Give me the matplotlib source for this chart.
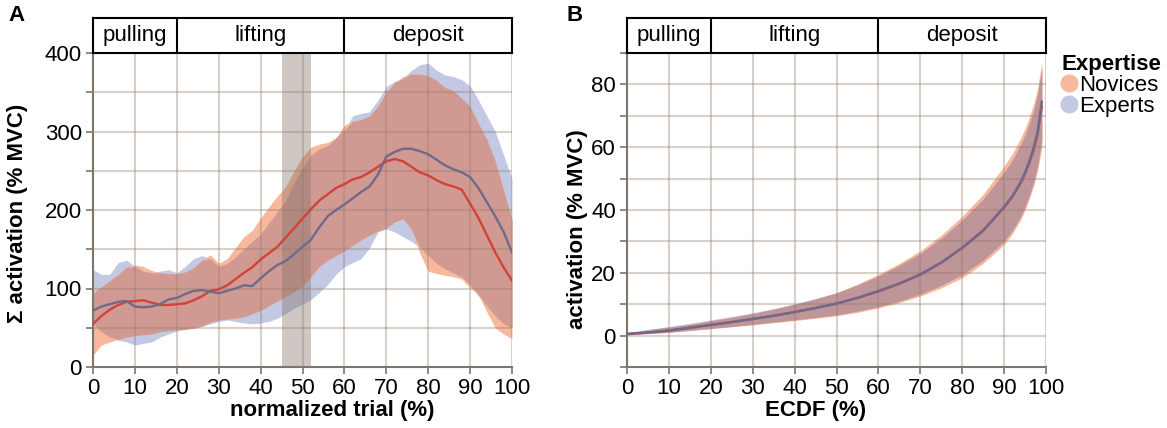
import numpy as np
import matplotlib.pyplot as plt
from matplotlib.lines import Line2D
from matplotlib.ticker import MultipleLocator

plt.rcParams['font.family'] = ['Liberation Sans', 'DejaVu Sans']

# panel A: activation over the normalized trial
trial = np.arange(0, 101, 2)
novice_mean = [55, 65, 73, 79, 83, 84, 85, 82, 79, 79, 80, 81, 85, 90, 97, 99, 104, 112, 120, 127,
               137, 145, 153, 165, 177, 189, 201, 212, 220, 228, 233, 239, 242, 248, 255, 262, 265, 262,
               255, 248, 244, 238, 233, 230, 226, 208, 190, 168, 146, 127, 110]
novice_hi = [94, 102, 110, 118, 127, 130, 128, 123, 120, 119, 119, 121, 126, 136, 143, 132, 138, 152, 166, 174,
             190, 204, 218, 230, 250, 268, 280, 284, 286, 292, 308, 313, 315, 320, 332, 350, 362, 370,
             373, 373, 371, 365, 356, 352, 342, 332, 310, 290, 262, 225, 187]
novice_lo = [15, 28, 32, 35, 38, 40, 41, 42, 45, 46, 47, 48, 49, 52, 57, 60, 61, 62, 64, 68,
             72, 78, 84, 90, 96, 103, 115, 128, 136, 142, 148, 155, 162, 168, 173, 177, 185, 189,
             175, 145, 122, 119, 117, 115, 112, 101, 92, 70, 50, 42, 36]
expert_mean = [72, 77, 80, 83, 84, 77, 76, 77, 80, 86, 88, 93, 97, 98, 96, 94, 97, 100, 104, 103,
               113, 122, 130, 135, 144, 153, 162, 178, 192, 200, 207, 215, 223, 230, 245, 268, 274, 278,
               278, 275, 271, 264, 257, 252, 248, 242, 228, 210, 192, 172, 146]
expert_hi = [124, 118, 118, 133, 136, 128, 122, 120, 122, 124, 120, 128, 138, 142, 138, 128, 132, 140, 150, 160,
             169, 184, 198, 212, 235, 254, 270, 278, 282, 292, 302, 320, 323, 325, 340, 357, 364, 368,
             378, 385, 387, 378, 372, 370, 366, 358, 340, 320, 300, 270, 240]
expert_lo = [55, 45, 38, 34, 32, 28, 30, 32, 38, 42, 46, 48, 50, 52, 55, 58, 60, 58, 56, 55,
             56, 58, 62, 68, 75, 80, 86, 95, 105, 118, 128, 133, 138, 152, 172, 176, 172, 166,
             160, 152, 142, 132, 125, 120, 115, 105, 90, 78, 65, 55, 50]

# panel B: activation over the ECDF
ecdf = [0, 5, 10, 15, 20, 25, 30, 35, 40, 45, 50, 55, 60, 65, 70, 75, 80, 85, 90, 92, 94, 95, 96, 97, 98, 99]
ecdf_novice_mean = [0.5, 1.0, 1.6, 2.5, 3.4, 4.3, 5.3, 6.3, 7.5, 8.8, 10.2, 12.0, 14.1, 16.5, 19.4, 23.2,
                    27.9, 33.4, 40.8, 44.3, 48.7, 51.6, 55.0, 59.0, 64.3, 73.0]
ecdf_novice_hi = [0.9, 1.8, 2.7, 3.6, 4.7, 5.8, 7.0, 8.4, 10.0, 11.7, 13.7, 16.4, 19.5, 23.0, 27.0, 32.0,
                  38.0, 45.0, 54.0, 58.0, 63.0, 66.0, 69.5, 73.5, 79.0, 87.0]
ecdf_novice_lo = [0.2, 0.6, 1.0, 1.6, 2.2, 2.8, 3.4, 4.1, 4.8, 5.5, 6.3, 7.4, 8.8, 10.5, 12.6, 15.2,
                  18.4, 23.0, 29.0, 32.5, 37.0, 40.0, 43.5, 47.5, 52.5, 60.0]
ecdf_expert_mean = [0.5, 1.0, 1.6, 2.5, 3.4, 4.3, 5.3, 6.3, 7.5, 8.8, 10.2, 12.0, 14.2, 16.6, 19.5, 23.3,
                    28.0, 33.5, 41.0, 44.5, 49.0, 52.0, 55.5, 59.5, 65.0, 74.5]
ecdf_expert_hi = [1.0, 2.0, 2.9, 3.9, 5.0, 6.1, 7.3, 8.6, 10.1, 11.7, 13.6, 16.1, 19.0, 22.4, 26.2, 31.0,
                  36.8, 43.5, 52.0, 56.0, 61.0, 64.0, 67.5, 71.5, 77.0, 85.0]
ecdf_expert_lo = [0.3, 0.7, 1.1, 1.7, 2.3, 2.9, 3.6, 4.3, 5.0, 5.8, 6.6, 7.8, 9.2, 11.0, 13.2, 16.0,
                  19.4, 24.0, 30.0, 33.5, 38.0, 41.0, 44.5, 48.5, 54.0, 62.0]

phases = ['pulling', 'lifting', 'deposit']
phase_edges = [0, 20, 60, 100]
groups = ['Novices', 'Experts']

NOV_FILL = '#F8B89C'
EXP_FILL = '#C3C9E3'
NOV_LINE = '#D0433A'
EXP_LINE = '#6E6A8E'
SPINE = '#7A7470'
FS = 16


def draw_bands(ax, x, nov_lo, nov_hi, exp_lo, exp_hi, both_color):
    nov_lo, nov_hi = np.asarray(nov_lo), np.asarray(nov_hi)
    exp_lo, exp_hi = np.asarray(exp_lo), np.asarray(exp_hi)
    ax.fill_between(x, exp_lo, exp_hi, color=EXP_FILL, lw=0, zorder=1)
    ax.fill_between(x, nov_lo, nov_hi, color=NOV_FILL, lw=0, zorder=1.1)
    # where both bands overlap the colours mix
    lo = np.maximum(nov_lo, exp_lo)
    hi = np.minimum(nov_hi, exp_hi)
    ax.fill_between(x, lo, hi, where=hi > lo, interpolate=True, color=both_color, lw=0, zorder=1.2)


def style_axes(ax, ylim, major, minor):
    ax.set_xlim(0, 100)
    ax.set_ylim(*ylim)
    ax.xaxis.set_major_locator(MultipleLocator(10))
    ax.yaxis.set_major_locator(MultipleLocator(major))
    ax.yaxis.set_minor_locator(MultipleLocator(minor))
    ax.set_axisbelow(False)
    ax.grid(True, which='both', color='#947B68', alpha=0.35, lw=1.5)
    for side in ['top', 'right']:
        ax.spines[side].set_visible(False)
    for side in ['left', 'bottom']:
        ax.spines[side].set_color(SPINE)
        ax.spines[side].set_linewidth(1.5)
    ax.tick_params(which='both', direction='out', length=5, width=1.2, color=SPINE,
                   labelsize=FS, pad=3)


def phase_header(rect):
    hax = fig.add_axes(rect)
    hax.set_xlim(0, 100)
    hax.set_ylim(0, 1)
    hax.set_xticks([])
    hax.set_yticks([])
    for s in hax.spines.values():
        s.set_linewidth(1.5)
    for edge in phase_edges[1:-1]:
        hax.axvline(edge, color='black', lw=1.5)
    for name, a, b in zip(phases, phase_edges[:-1], phase_edges[1:]):
        hax.text((a + b) / 2, 0.5, name, ha='center', va='center', fontsize=FS)


fig = plt.figure(figsize=(11.67, 4.28), dpi=100)
W, H = 1167, 428

# A
axA = fig.add_axes([93 / W, 61 / H, 419 / W, 314 / H])
draw_bands(axA, trial, novice_lo, novice_hi, expert_lo, expert_hi, '#D09A92')
axA.axvspan(45, 52, color='#7F6F66', alpha=0.38, lw=0, zorder=2.2)
axA.plot(trial, novice_mean, color=NOV_LINE, lw=1.7, zorder=3)
axA.plot(trial, expert_mean, color=EXP_LINE, lw=1.7, zorder=3)
style_axes(axA, (0, 400), 100, 50)
axA.set_xlabel('normalized trial (%)', fontsize=FS, fontweight='bold')
axA.set_ylabel('Σ activation (% MVC)', fontsize=FS, fontweight='bold')
axA.xaxis.set_label_coords((332 - 93) / 419, -33 / 314)
axA.yaxis.set_label_coords(-65 / 419, 0.49)
phase_header([93 / W, 375 / H, 419 / W, 35 / H])

# B
axB = fig.add_axes([627 / W, 61 / H, 419 / W, 314 / H])
draw_bands(axB, ecdf, ecdf_novice_lo, ecdf_novice_hi, ecdf_expert_lo, ecdf_expert_hi, '#BE9599')
axB.plot(ecdf, ecdf_novice_mean, color=NOV_LINE, lw=1.7, zorder=3)
axB.plot(ecdf, ecdf_expert_mean, color=EXP_LINE, lw=1.7, zorder=3)
style_axes(axB, (-10, 90), 20, 10)
axB.set_xlabel('ECDF (%)', fontsize=FS, fontweight='bold')
axB.set_ylabel('activation (% MVC)', fontsize=FS, fontweight='bold')
axB.xaxis.set_label_coords((816 - 627) / 419, -33 / 314)
axB.yaxis.set_label_coords(-39 / 419, 0.44)
phase_header([627 / W, 375 / H, 419 / W, 35 / H])

handles = [Line2D([], [], ls='', marker='o', ms=12, color=c) for c in [NOV_FILL, EXP_FILL]]
fig.legend(handles, groups, title='Expertise', loc='upper left',
           bbox_to_anchor=(1046 / W, 1 - 38 / H), frameon=False, fontsize=FS,
           title_fontproperties={'weight': 'bold', 'size': FS}, alignment='left',
           handlelength=0.7, handletextpad=0.1, labelspacing=0.0, borderpad=0.2)

fig.text(8 / W, 1 - 5 / H, 'A', fontsize=FS, fontweight='bold', va='top')
fig.text(566 / W, 1 - 5 / H, 'B', fontsize=FS, fontweight='bold', va='top')

fig.savefig('out.png', dpi=100)
